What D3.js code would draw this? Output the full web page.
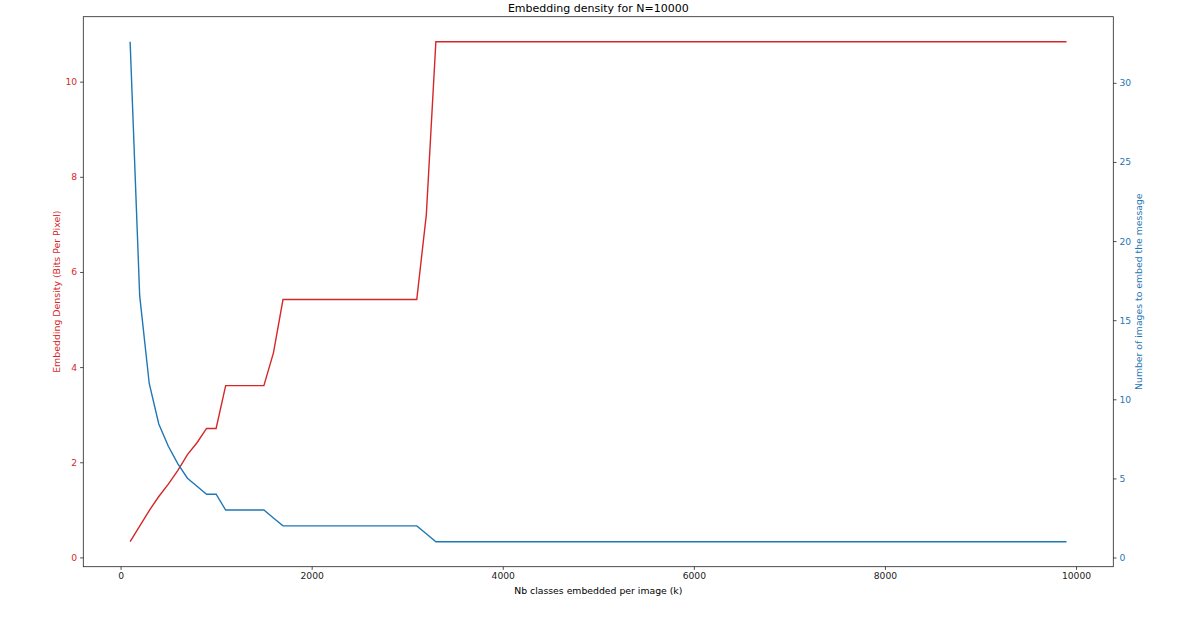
<!DOCTYPE html>
<html>
<head>
<meta charset="utf-8">
<script src="https://cdn.jsdelivr.net/npm/d3@7"></script>
<style>
  body { margin: 0; background: #fff; }
  svg { display: block; font-family: "DejaVu Sans", sans-serif; }
</style>
</head>
<body>
<svg id="chart" width="1196" height="636"></svg>
<script>
// classes embedded per image (k)
var classes = [
  100, 200, 300, 400, 500, 600, 700, 800, 900, 1000,
  1100, 1200, 1300, 1400, 1500, 1600, 1700, 1800, 1900, 2000,
  2100, 2200, 2300, 2400, 2500, 2600, 2700, 2800, 2900, 3000,
  3100, 3200, 3300, 3400, 3500, 3600, 3700, 3800, 3900, 4000,
  4100, 4200, 4300, 4400, 4500, 4600, 4700, 4800, 4900, 5000,
  5100, 5200, 5300, 5400, 5500, 5600, 5700, 5800, 5900, 6000,
  6100, 6200, 6300, 6400, 6500, 6600, 6700, 6800, 6900, 7000,
  7100, 7200, 7300, 7400, 7500, 7600, 7700, 7800, 7900, 8000,
  8100, 8200, 8300, 8400, 8500, 8600, 8700, 8800, 8900, 9000,
  9100, 9200, 9300, 9400, 9500, 9600, 9700, 9800, 9900
];

// bits per pixel (left axis)
var density = [
  0.33, 0.655, 0.985, 1.28, 1.54, 1.83, 2.16, 2.41, 2.71, 2.71,
  3.61, 3.61, 3.61, 3.61, 3.61, 4.3, 5.42, 5.42, 5.42, 5.42,
  5.42, 5.42, 5.42, 5.42, 5.42, 5.42, 5.42, 5.42, 5.42, 5.42,
  5.42, 7.2, 10.84, 10.84, 10.84, 10.84, 10.84, 10.84, 10.84, 10.84,
  10.84, 10.84, 10.84, 10.84, 10.84, 10.84, 10.84, 10.84, 10.84, 10.84,
  10.84, 10.84, 10.84, 10.84, 10.84, 10.84, 10.84, 10.84, 10.84, 10.84,
  10.84, 10.84, 10.84, 10.84, 10.84, 10.84, 10.84, 10.84, 10.84, 10.84,
  10.84, 10.84, 10.84, 10.84, 10.84, 10.84, 10.84, 10.84, 10.84, 10.84,
  10.84, 10.84, 10.84, 10.84, 10.84, 10.84, 10.84, 10.84, 10.84, 10.84,
  10.84, 10.84, 10.84, 10.84, 10.84, 10.84, 10.84, 10.84, 10.84
];

// images needed to embed the message (right axis)
var images = [
  32.6, 16.55, 11.0, 8.44, 7.03, 5.92, 5.01, 4.5, 4, 4,
  3, 3, 3, 3, 3, 2.5, 2, 2, 2, 2,
  2, 2, 2, 2, 2, 2, 2, 2, 2, 2,
  2, 1.5, 1, 1, 1, 1, 1, 1, 1, 1,
  1, 1, 1, 1, 1, 1, 1, 1, 1, 1,
  1, 1, 1, 1, 1, 1, 1, 1, 1, 1,
  1, 1, 1, 1, 1, 1, 1, 1, 1, 1,
  1, 1, 1, 1, 1, 1, 1, 1, 1, 1,
  1, 1, 1, 1, 1, 1, 1, 1, 1, 1,
  1, 1, 1, 1, 1, 1, 1, 1, 1
];

var xTicks = [0, 2000, 4000, 6000, 8000, 10000];
var leftTicks = [0, 2, 4, 6, 8, 10];
var rightTicks = [0, 5, 10, 15, 20, 25, 30];

var red = '#d62728';
var blue = '#1f77b4';

var margin = { top: 16.7, right: 82.7, bottom: 69.3, left: 83.3 };
var width = 1196 - margin.left - margin.right;
var height = 636 - margin.top - margin.bottom;

// matplotlib style 5% padding around data
function padded(values) {
  var ext = d3.extent(values);
  var pad = (ext[1] - ext[0]) * 0.05;
  return [ext[0] - pad, ext[1] + pad];
}

var x = d3.scaleLinear().domain(padded(classes)).range([0, width]);
var yLeft = d3.scaleLinear().domain(padded(density)).range([height, 0]);
var yRight = d3.scaleLinear().domain(padded(images)).range([height, 0]);

var svg = d3.select('#chart');
var g = svg.append('g')
  .attr('transform', 'translate(' + margin.left + ',' + margin.top + ')');

var rows = classes.map(function (k, i) {
  return { k: k, density: density[i], images: images[i] };
});

// lines
var redLine = d3.line()
  .x(function (d) { return x(d.k); })
  .y(function (d) { return yLeft(d.density); });

var blueLine = d3.line()
  .x(function (d) { return x(d.k); })
  .y(function (d) { return yRight(d.images); });

g.append('path')
  .datum(rows)
  .attr('fill', 'none')
  .attr('stroke', red)
  .attr('stroke-width', 1.4)
  .attr('d', redLine);

g.append('path')
  .datum(rows)
  .attr('fill', 'none')
  .attr('stroke', blue)
  .attr('stroke-width', 1.4)
  .attr('d', blueLine);

// axes
var xAxis = g.append('g')
  .attr('transform', 'translate(0,' + height + ')')
  .call(d3.axisBottom(x).tickValues(xTicks).tickSize(3.2).tickPadding(3).tickFormat(d3.format('d')));

var leftAxis = g.append('g')
  .call(d3.axisLeft(yLeft).tickValues(leftTicks).tickSize(3.2).tickPadding(3).tickFormat(d3.format('d')));

var rightAxis = g.append('g')
  .attr('transform', 'translate(' + width + ',0)')
  .call(d3.axisRight(yRight).tickValues(rightTicks).tickSize(3.2).tickPadding(3).tickFormat(d3.format('d')));

[xAxis, leftAxis, rightAxis].forEach(function (ax) {
  ax.select('.domain').remove();
  ax.selectAll('.tick line').attr('stroke', '#222').attr('stroke-width', 0.8);
  ax.selectAll('.tick text').attr('font-size', 9.2).attr('font-family', '"DejaVu Sans", sans-serif');
});
xAxis.selectAll('.tick text').attr('fill', '#222');
leftAxis.selectAll('.tick text').attr('fill', red);
rightAxis.selectAll('.tick text').attr('fill', blue);

// frame
g.append('rect')
  .attr('width', width)
  .attr('height', height)
  .attr('fill', 'none')
  .attr('stroke', '#222')
  .attr('stroke-width', 0.8);

// labels
svg.append('text')
  .attr('x', margin.left + width / 2)
  .attr('y', 11.5)
  .attr('text-anchor', 'middle')
  .attr('font-size', 11)
  .attr('fill', '#000')
  .text('Embedding density for N=10000');

svg.append('text')
  .attr('x', margin.left + width / 2)
  .attr('y', 594)
  .attr('text-anchor', 'middle')
  .attr('font-size', 9.3)
  .attr('fill', '#000')
  .text('Nb classes embedded per image (k)');

svg.append('text')
  .attr('transform', 'translate(59.5,' + (margin.top + height / 2) + ') rotate(-90)')
  .attr('text-anchor', 'middle')
  .attr('font-size', 9.4)
  .attr('fill', red)
  .text('Embedding Density (Bits Per Pixel)');

svg.append('text')
  .attr('transform', 'translate(1141.5,' + (margin.top + height / 2) + ') rotate(-90)')
  .attr('text-anchor', 'middle')
  .attr('font-size', 9.3)
  .attr('fill', blue)
  .text('Number of images to embed the message');
</script>
</body>
</html>
